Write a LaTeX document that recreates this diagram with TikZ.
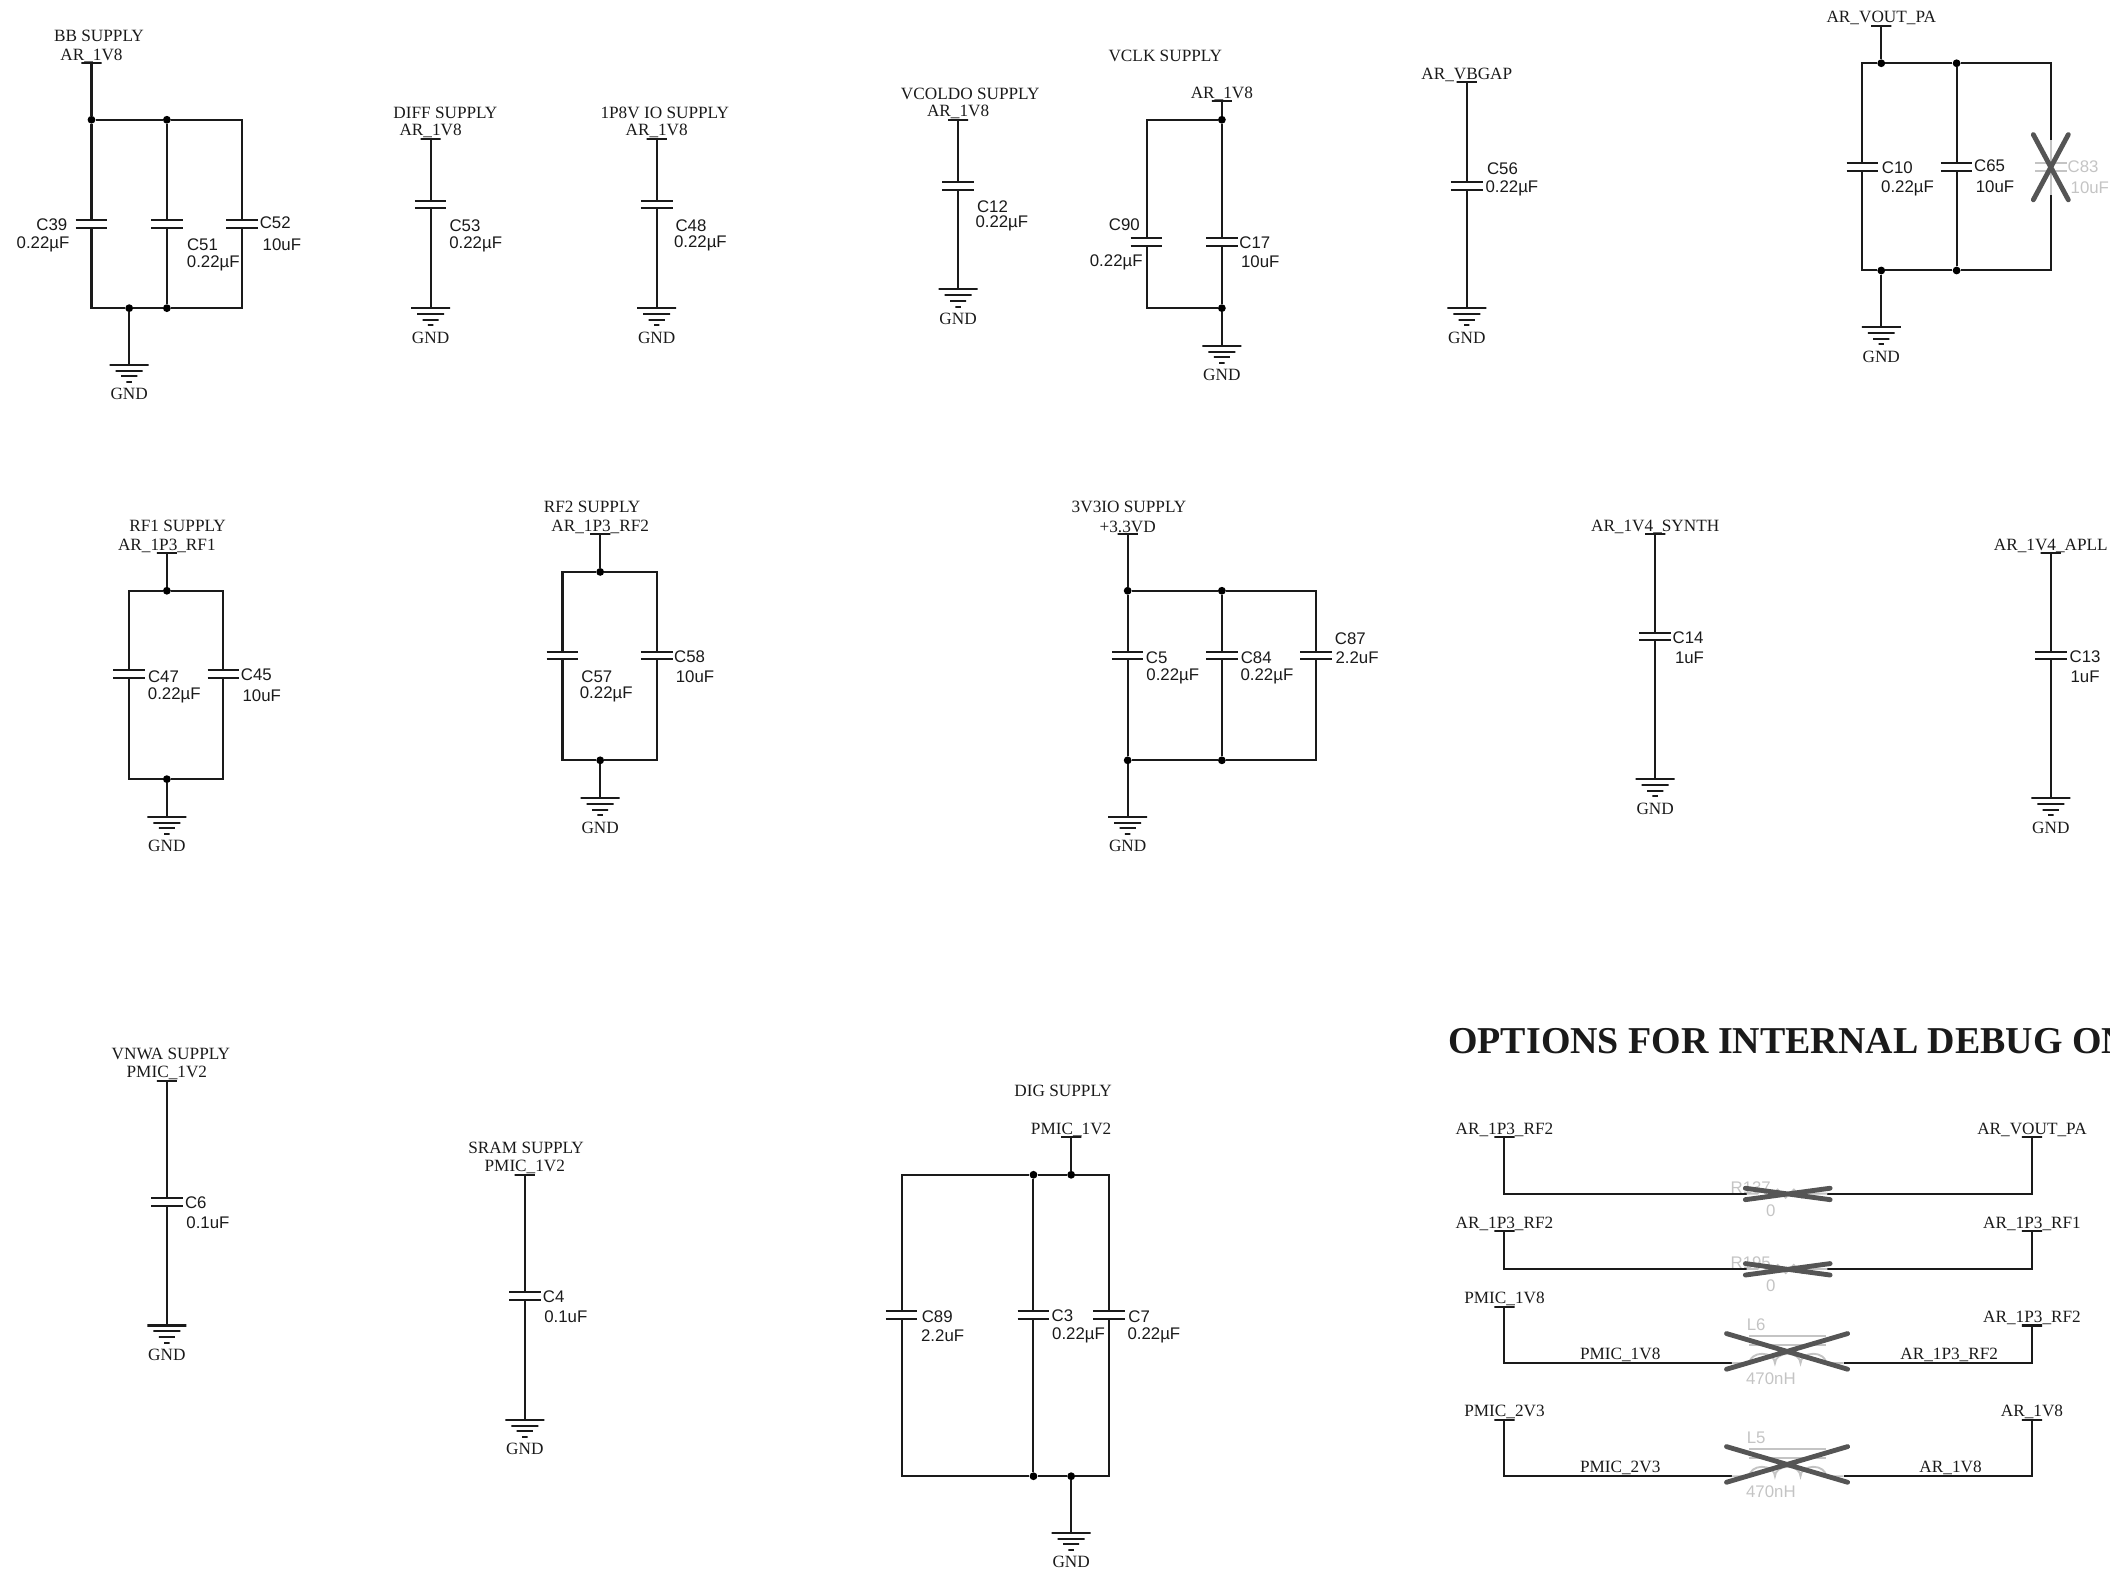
\documentclass[tikz,border=0pt]{standalone}
\usepackage{fontspec}
\setmainfont{Liberation Serif}
\newfontfamily\sansf{Liberation Sans}
\definecolor{inkk}{HTML}{1A1A1A}
\definecolor{ghost}{HTML}{C4C4C4}
\definecolor{xmk}{HTML}{555555}
\tikzset{
  wire/.style={draw=inkk,line width=1.5pt,line cap=butt,line join=miter},
  gwire/.style={draw=ghost,line width=1.4pt},
  dot/.style={circle,fill=black,draw=none,inner sep=0pt,minimum size=5.8pt},
  barsym/.style={draw=inkk,line width=1.5pt,inner sep=0pt,minimum width=#1,minimum height=0pt,outer sep=0pt},
  barsym/.default=15pt,
  capbox/.style={draw=none,inner sep=0pt,minimum width=23.5pt,minimum height=5.7pt,outer sep=0pt},
  serlab/.style={font=\fontsize{12.8}{13}\selectfont,text=inkk,inner sep=0pt,anchor=center},
  sanlab/.style={font=\sansf\fontsize{12.5}{13}\selectfont,text=inkk,inner sep=0pt,anchor=center},
  ghostlab/.style={font=\sansf\fontsize{12.5}{13}\selectfont,text=ghost,inner sep=0pt,anchor=center},
  xmark/.style={draw=xmk,line width=3.6pt,line cap=round},
}
\newcounter{lb}
\newcommand\ser[3]{\stepcounter{lb}\node[serlab] (lb\arabic{lb}) at (#1,#2+0.9) {#3};}
\newcommand\san[3]{\stepcounter{lb}\node[sanlab] (lb\arabic{lb}) at (#1+0.5,#2+0.7) {#3};}
\newcommand\gho[3]{\stepcounter{lb}\node[ghostlab] (lb\arabic{lb}) at (#1,#2+0.7) {#3};}
% name x y text
\newcommand\pwr[4]{\node[barsym] (#1) at (#2,#3) {};\ser{#2}{#3-6.5}{#4}}
% name x y
\newcommand\gnd[3]{%
  \node[barsym=29pt] (#1) at (#2,#3) {};
  \node[barsym=20pt] (#1b) at (#2,#3+4.4) {};
  \node[barsym=12pt] (#1c) at (#2,#3+8.6) {};
  \node[barsym=4pt] (#1d) at (#2,#3+12.8) {};
  \ser{#2}{#3+21}{GND}}
% name x y
\newcommand\capv[3]{\node[capbox] (#1) at (#2,#3) {};
  \draw[wire] (#1.north west) -- (#1.north east) (#1.south west) -- (#1.south east);}
\newcommand\capg[3]{\node[capbox] (#1) at (#2,#3) {};
  \draw[gwire] (#1.north west) -- (#1.north east) (#1.south west) -- (#1.south east);}
\newcommand\jn[3]{\node[dot] (#1) at (#2,#3) {};}
\begin{document}
\begin{tikzpicture}[x=1pt,y=-1pt]
\useasboundingbox (0,0) rectangle (1568,1167.4);
\clip (0,0) rectangle (1568,1167.4);
% BB
\ser{73.5}{26}{BB SUPPLY}
\pwr{pbb}{68}{47}{AR\_1V8}
\jn{bb1}{68}{89}\jn{bb2}{124}{89}\coordinate (bb3) at (180,89);
\coordinate (bb4) at (68,229);\jn{bb5}{96}{229}\jn{bb6}{124}{229}\coordinate (bb7) at (180,229);
\capv{c39}{68}{166.5}\capv{c51}{124}{166.5}\capv{c52}{180}{166.5}
\gnd{gbb}{96}{271}
\draw[wire] (pbb) -- (bb1) -- (bb2) -- (bb3) -- (c52) -- (bb7) -- (bb6) -- (bb5) -- (bb4) -- (c39) -- (bb1);
\draw[wire] (bb2) -- (c51) -- (bb6);
\draw[wire] (bb5) -- (gbb);
\san{38}{166}{C39}\san{31.5}{181}{0.22µF}
\san{150}{181}{C51}\san{158}{195}{0.22µF}
\san{204}{165}{C52}\san{209}{181}{10uF}
% DIFF
\ser{331}{83}{DIFF SUPPLY}
\pwr{pdf}{320}{103}{AR\_1V8}
\capv{c53}{320}{152}\gnd{gdf}{320}{229}
\draw[wire] (pdf) -- (c53) -- (gdf);
\san{345}{167}{C53}\san{353}{181}{0.22µF}
% 1P8V
\ser{494}{83}{1P8V IO SUPPLY}
\pwr{pio}{488}{103}{AR\_1V8}
\capv{c48}{488}{152}\gnd{gio}{488}{229}
\draw[wire] (pio) -- (c48) -- (gio);
\san{513}{167}{C48}\san{520}{180}{0.22µF}
% VCOLDO
\ser{721}{69}{VCOLDO SUPPLY}
\pwr{pvc}{712}{89}{AR\_1V8}
\capv{c12}{712}{138}\gnd{gvc}{712}{215}
\draw[wire] (pvc) -- (c12) -- (gvc);
\san{737}{153}{C12}\san{744}{165}{0.22µF}
% VCLK
\ser{866}{41}{VCLK SUPPLY}
\pwr{pck}{908}{75}{AR\_1V8}
\jn{ck1}{908}{89}\jn{ck2}{908}{229}\coordinate (ck3) at (852,89);\coordinate (ck4) at (852,229);
\capv{c90}{852}{180}\capv{c17}{908}{180}\gnd{gck}{908}{257}
\draw[wire] (pck) -- (ck1) -- (c17) -- (ck2) -- (gck);
\draw[wire] (ck1) -- (ck3) -- (c90) -- (ck4) -- (ck2);
\san{835}{166}{C90}\san{829}{194}{0.22µF}
\san{932}{180}{C17}\san{936}{194}{10uF}
% VBGAP
\pwr{pbg}{1090}{61}{AR\_VBGAP}
\capv{c56}{1090}{138}\gnd{gbg}{1090}{229}
\draw[wire] (pbg) -- (c56) -- (gbg);
\san{1116}{125}{C56}\san{1123}{139}{0.22µF}
% VOUT PA
\pwr{ppa}{1398}{19}{AR\_VOUT\_PA}
\jn{pa1}{1398}{47}\jn{pa2}{1454}{47}\coordinate (pa3) at (1384,47);\coordinate (pa4) at (1524,47);
\jn{pa5}{1398}{201}\jn{pa6}{1454}{201}\coordinate (pa7) at (1384,201);\coordinate (pa8) at (1524,201);
\capv{c10}{1384}{124}\capv{c65}{1454}{124}\capg{c83}{1524}{124}
\coordinate (pa9) at (1524,104);\coordinate (pa10) at (1524,145);
\gnd{gpa}{1398}{243}
\draw[wire] (ppa) -- (pa1) -- (pa3) -- (c10) -- (pa7) -- (pa5) -- (gpa);
\draw[wire] (pa1) -- (pa2) -- (c65) -- (pa6) -- (pa5);
\draw[wire] (pa2) -- (pa4) -- (pa9);
\draw[wire] (pa6) -- (pa8) -- (pa10);
\draw[gwire] (pa9) -- (c83) -- (pa10);
\san{1409.5}{124}{C10}\san{1417}{139}{0.22µF}
\san{1478}{122.5}{C65}\san{1482}{138}{10uF}
\gho{1548}{123}{C83}\gho{1553}{139}{10uF}
\draw[xmark] (1511,100) -- (1537,148.5) (1537,100) -- (1511,148.5);
% RF1
\ser{132}{390}{RF1 SUPPLY}
\pwr{prf}{124}{411}{AR\_1P3\_RF1}
\jn{rf1}{124}{439}\jn{rf2}{124}{579}\coordinate (rf3) at (96,439);\coordinate (rf4) at (166,439);\coordinate (rf5) at (96,579);\coordinate (rf6) at (166,579);
\capv{c47}{96}{501}\capv{c45}{166}{501}\gnd{grf}{124}{607}
\draw[wire] (prf) -- (rf1) -- (rf3) -- (c47) -- (rf5) -- (rf2) -- (grf);
\draw[wire] (rf1) -- (rf4) -- (c45) -- (rf6) -- (rf2);
\san{121}{502}{C47}\san{129}{516}{0.22µF}
\san{190}{501}{C45}\san{194}{516}{10uF}
% RF2
\ser{440}{376}{RF2 SUPPLY}
\pwr{prg}{446}{397}{AR\_1P3\_RF2}
\jn{rg1}{446}{425}\jn{rg2}{446}{565}\coordinate (rg3) at (418,425);\coordinate (rg4) at (488,425);\coordinate (rg5) at (418,565);\coordinate (rg6) at (488,565);
\capv{c57}{418}{487}\capv{c58}{488}{487}\gnd{grg}{446}{593}
\draw[wire] (prg) -- (rg1) -- (rg3) -- (c57) -- (rg5) -- (rg2) -- (grg);
\draw[wire] (rg1) -- (rg4) -- (c58) -- (rg6) -- (rg2);
\san{443}{502}{C57}\san{450}{515}{0.22µF}
\san{512}{487}{C58}\san{516}{502}{10uF}
% 3V3IO
\ser{839}{376}{3V3IO SUPPLY}
\pwr{pth}{838}{397}{+3.3VD}
\jn{th1}{838}{439}\jn{th2}{908}{439}\coordinate (th3) at (978,439);
\jn{th4}{838}{565}\jn{th5}{908}{565}\coordinate (th6) at (978,565);
\capv{c5}{838}{487}\capv{c84}{908}{487}\capv{c87}{978}{487}\gnd{gth}{838}{607}
\draw[wire] (pth) -- (th1) -- (c5) -- (th4) -- (gth);
\draw[wire] (th1) -- (th2) -- (th3) -- (c87) -- (th6) -- (th5) -- (th4);
\draw[wire] (th2) -- (c84) -- (th5);
\san{859}{488}{C5}\san{871}{502}{0.22µF}
\san{933}{488}{C84}\san{941}{502}{0.22µF}
\san{1003}{474}{C87}\san{1008}{488}{2.2uF}
% SYNTH
\pwr{psy}{1230}{397}{AR\_1V4\_SYNTH}
\capv{c14}{1230}{473}\gnd{gsy}{1230}{579}
\draw[wire] (psy) -- (c14) -- (gsy);
\san{1254}{473}{C14}\san{1255}{488}{1uF}
% APLL
\pwr{pap}{1524}{411}{AR\_1V4\_APLL}
\capv{c13}{1524}{487}\gnd{gap}{1524}{593}
\draw[wire] (pap) -- (c13) -- (gap);
\san{1549}{487}{C13}\san{1549}{502}{1uF}
% VNWA
\ser{127}{782}{VNWA SUPPLY}
\pwr{pvn}{124}{803}{PMIC\_1V2}
\capv{c6}{124}{893}\gnd{gvn}{124}{985}
\draw[wire] (pvn) -- (c6) -- (gvn);
\san{145}{893}{C6}\san{154}{908}{0.1uF}
% SRAM
\ser{391}{852}{SRAM SUPPLY}
\pwr{psr}{390}{873}{PMIC\_1V2}
\capv{c4}{390}{963}\gnd{gsr}{390}{1055}
\draw[wire] (psr) -- (c4) -- (gsr);
\san{411}{963}{C4}\san{420}{978}{0.1uF}
% DIG
\ser{790}{810}{DIG SUPPLY}
\pwr{pdg}{796}{845}{PMIC\_1V2}
\jn{dg1}{768}{873}\jn{dg2}{796}{873}\coordinate (dg3) at (670,873);\coordinate (dg4) at (824,873);
\jn{dg5}{768}{1097}\jn{dg6}{796}{1097}\coordinate (dg7) at (670,1097);\coordinate (dg8) at (824,1097);
\capv{c89}{670}{977}\capv{c3}{768}{977}\capv{c7}{824}{977}\gnd{gdg}{796}{1139}
\draw[wire] (pdg) -- (dg2) -- (dg1) -- (dg3) -- (c89) -- (dg7) -- (dg5) -- (dg6) -- (gdg);
\draw[wire] (dg1) -- (c3) -- (dg5);
\draw[wire] (dg2) -- (dg4) -- (c7) -- (dg8) -- (dg6);
\san{696}{978}{C89}\san{700}{992}{2.2uF}
\san{789}{977}{C3}\san{801}{992}{0.22µF}
\san{846}{978}{C7}\san{857}{992}{0.22µF}
% Title
\node[font=\bfseries\fontsize{28.2}{30}\selectfont,text=inkk,anchor=west,inner sep=0pt] (dbgtitle) at (1076,774) {OPTIONS FOR INTERNAL DEBUG ON};
% Row 1
\pwr{r1a}{1118}{845}{AR\_1P3\_RF2}\pwr{r1b}{1510}{845}{AR\_VOUT\_PA}
\coordinate (r1c) at (1118,887);\coordinate (r1d) at (1510,887);
\coordinate (r1e) at (1298,887);\coordinate (r1f) at (1358,887);
\draw[wire] (r1a) -- (r1c) -- (r1e) (r1f) -- (r1d) -- (r1b);
\draw[gwire] (r1e) -- ++(8,0) -- ++(3,-3) -- ++(6,6) -- ++(6,-6) -- ++(6,6) -- ++(6,-6) -- ++(6,6) -- ++(3,-3) -- (r1f);
\gho{1301}{882}{R137}\gho{1316}{899}{0}
\draw[xmark] (1297,883) -- (1360,891.5) (1297,891.5) -- (1360,883);
% Row 2
\pwr{r2a}{1118}{915}{AR\_1P3\_RF2}\pwr{r2b}{1510}{915}{AR\_1P3\_RF1}
\coordinate (r2c) at (1118,943);\coordinate (r2d) at (1510,943);
\coordinate (r2e) at (1298,943);\coordinate (r2f) at (1358,943);
\draw[wire] (r2a) -- (r2c) -- (r2e) (r2f) -- (r2d) -- (r2b);
\draw[gwire] (r2e) -- ++(8,0) -- ++(3,-3) -- ++(6,6) -- ++(6,-6) -- ++(6,6) -- ++(6,-6) -- ++(6,6) -- ++(3,-3) -- (r2f);
\gho{1301}{938}{R195}\gho{1316}{955}{0}
\draw[xmark] (1297,939) -- (1360,947.5) (1297,947.5) -- (1360,939);
% Row 3
\pwr{r3a}{1118}{971}{PMIC\_1V8}\pwr{r3b}{1510}{985}{AR\_1P3\_RF2}
\coordinate (r3c) at (1118,1013);\coordinate (r3d) at (1510,1013);
\coordinate (r3e) at (1287,1013);\coordinate (r3f) at (1370,1013);
\draw[wire] (r3a) -- (r3c) -- (r3e) (r3f) -- (r3d) -- (r3b);
\ser{1204}{1006}{PMIC\_1V8}\ser{1448.5}{1006}{AR\_1P3\_RF2}
\draw[gwire] (r3e) -- (1300,1013) arc (180:360:9.5 and 7) arc (180:360:9.5 and 7) arc (180:360:9.5 and 7) -- (r3f);
\draw[gwire] (1300,992.5) -- (1357,992.5) (1300,999.5) -- (1357,999.5);
\gho{1305}{984}{L6}\gho{1316}{1024}{470nH}
\draw[xmark] (1283,991) -- (1373,1017.5) (1283,1017.5) -- (1373,991);
% Row 4
\pwr{r4a}{1118}{1055}{PMIC\_2V3}\pwr{r4b}{1510}{1055}{AR\_1V8}
\coordinate (r4c) at (1118,1097);\coordinate (r4d) at (1510,1097);
\coordinate (r4e) at (1287,1097);\coordinate (r4f) at (1370,1097);
\draw[wire] (r4a) -- (r4c) -- (r4e) (r4f) -- (r4d) -- (r4b);
\ser{1204}{1090}{PMIC\_2V3}\ser{1449.5}{1090}{AR\_1V8}
\draw[gwire] (r4e) -- (1300,1097) arc (180:360:9.5 and 7) arc (180:360:9.5 and 7) arc (180:360:9.5 and 7) -- (r4f);
\draw[gwire] (1300,1076.5) -- (1357,1076.5) (1300,1083.5) -- (1357,1083.5);
\gho{1305}{1068}{L5}\gho{1316}{1108}{470nH}
\draw[xmark] (1283,1075) -- (1373,1101.5) (1283,1101.5) -- (1373,1075);
\end{tikzpicture}
\end{document}
